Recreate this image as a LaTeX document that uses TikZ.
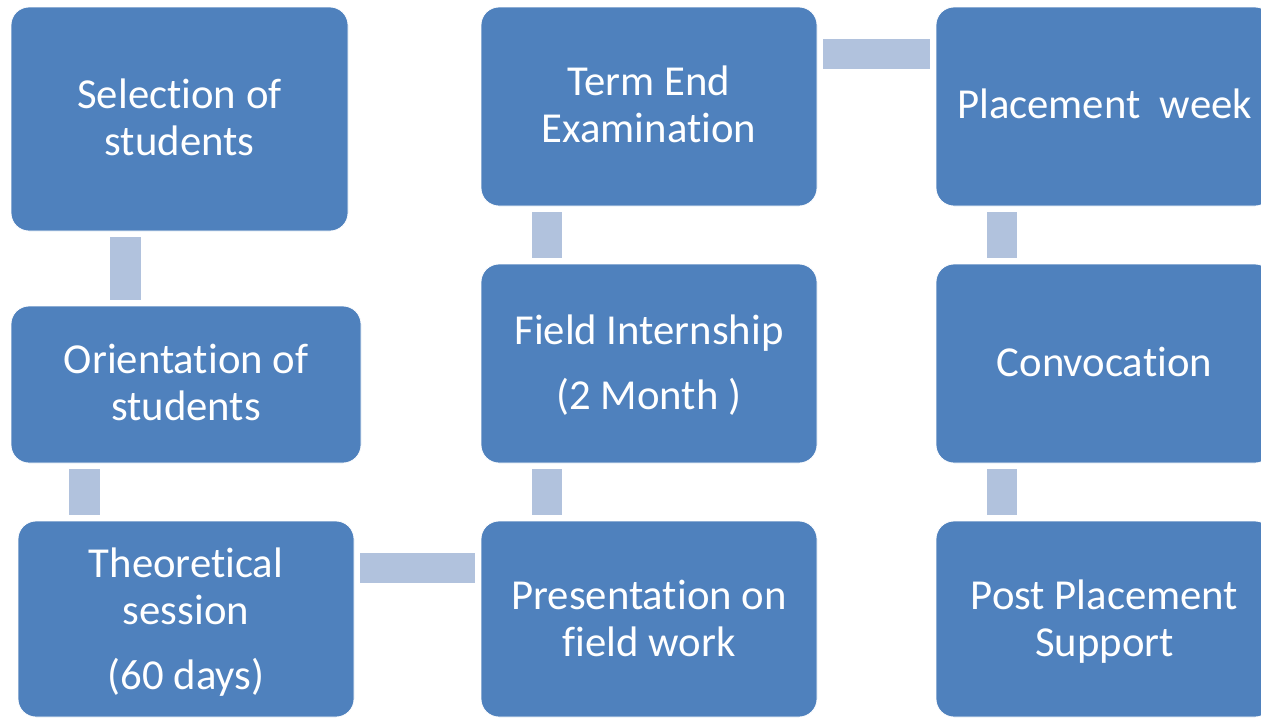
\documentclass[tikz,border=0pt]{standalone}
\usepackage{fontspec}
\setmainfont{Carlito}[Ligatures=NoCommon]
\definecolor{boxblue}{HTML}{4F81BD}
\definecolor{barblue}{HTML}{B1C2DD}
\tikzset{
  box/.style={draw=white, line width=0.8pt, fill=boxblue, rounded corners=18pt, inner sep=0pt, outer sep=0pt},
  lbl/.style={text=white, align=center, inner sep=0pt, font=\fontsize{42.7pt}{46.5pt}\selectfont, anchor=base},
  bar/.style={fill=barblue}
}
\begin{document}
\begin{tikzpicture}[x=1pt,y=-1pt]
\useasboundingbox (0,0) rectangle (1261,718);
\begin{scope}
\clip (0,0) rectangle (1261,718);
% boxes
\node[box, minimum width=337pt, minimum height=224pt] (A) at (179.5,119) {};
\node[box, minimum width=350pt, minimum height=157pt] (B) at (186,384.5) {};
\node[box, minimum width=336pt, minimum height=196pt] (C) at (186,619) {};
\node[box, minimum width=336pt, minimum height=196pt] (D) at (649,619) {};
\node[box, minimum width=336pt, minimum height=199pt] (E) at (649,363.5) {};
\node[box, minimum width=336pt, minimum height=199pt] (F) at (649,106.5) {};
\node[box, minimum width=337pt, minimum height=199pt] (G) at (1104.5,106.5) {};
\node[box, minimum width=337pt, minimum height=199pt] (H) at (1104.5,363.5) {};
\node[box, minimum width=337pt, minimum height=196pt] (I) at (1104.5,619) {};
% connectors
\fill[bar] ([xshift=99pt,yshift=-6pt]A.south west) rectangle ([xshift=130pt,yshift=6pt]B.north west);
\fill[bar] ([xshift=58pt,yshift=-6pt]B.south west) rectangle ([xshift=82pt,yshift=6pt]C.north west);
\fill[bar] ([xshift=6pt,yshift=-32pt]C.north east) rectangle ([xshift=-6pt,yshift=-62pt]D.north west);
\fill[bar] ([xshift=51pt,yshift=6pt]D.north west) rectangle ([xshift=81pt,yshift=-6pt]E.south west);
\fill[bar] ([xshift=51pt,yshift=6pt]E.north west) rectangle ([xshift=81pt,yshift=-6pt]F.south west);
\fill[bar] ([xshift=6pt,yshift=-32pt]F.north east) rectangle ([xshift=-6pt,yshift=-62pt]G.north west);
\fill[bar] ([xshift=51pt,yshift=-6pt]G.south west) rectangle ([xshift=81pt,yshift=6pt]H.north west);
\fill[bar] ([xshift=51pt,yshift=-6pt]H.south west) rectangle ([xshift=81pt,yshift=6pt]I.north west);
% labels (anchor = baseline of last line)
\node[lbl] (At) at (179.5,155) {Selection of\\students};
\node[lbl] (Bt) at (186,420) {Orientation of\\students};
\node[lbl] (Ct) at (186,689) {Theoretical\\session\\[18.5pt](60 days)};
\node[lbl] (Dt) at (649,656) {Presentation on\\field work};
\node[lbl] (Et) at (649,409) {Field Internship\\[18.5pt](2 Month )};
\node[lbl] (Ft) at (649,142) {Term End\\Examination};
\node[lbl] (Gt) at (1104.5,118) {Placement\ \ week};
\node[lbl] (Ht) at (1104.5,376) {Convocation};
\node[lbl] (It) at (1104.5,656) {Post Placement\\Support};
\end{scope}
\end{tikzpicture}
\end{document}
